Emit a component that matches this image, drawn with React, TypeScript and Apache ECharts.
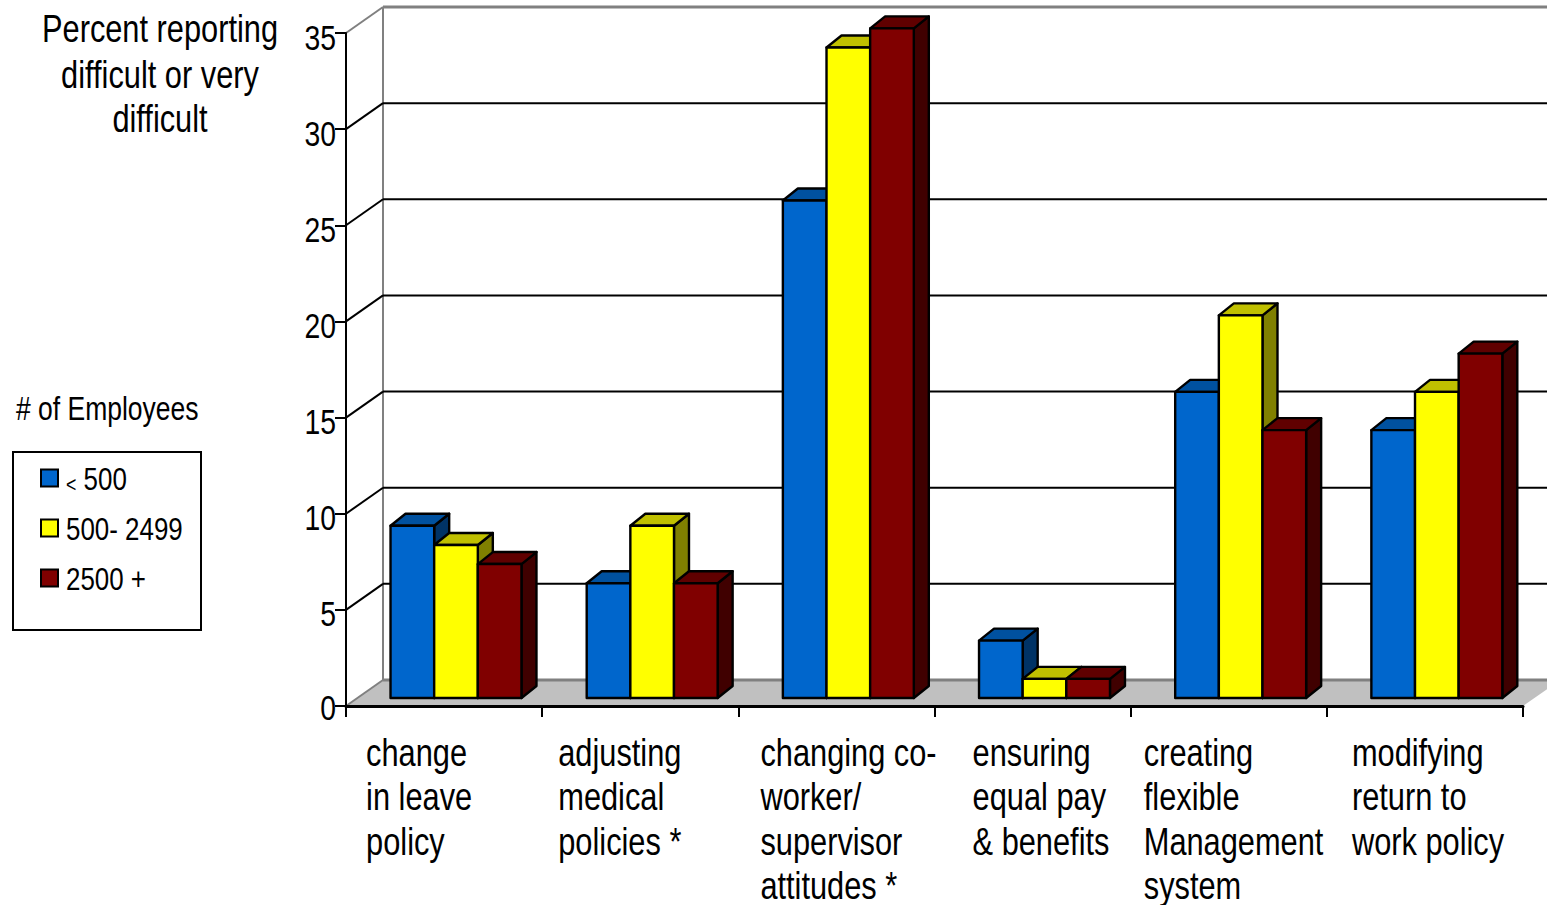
import React, { useEffect, useRef } from "react";
import * as echarts from "echarts";

const categories = [
  "change\nin leave\npolicy",
  "adjusting\nmedical\npolicies *",
  "changing co-\nworker/\nsupervisor\nattitudes *",
  "ensuring\nequal pay\n& benefits",
  "creating\nflexible\nManagement\nsystem",
  "modifying\nreturn to\nwork policy",
];
const under500 = [9, 6, 26, 3, 16, 14];
const mid500to2499 = [8, 9, 34, 1, 20, 16];
const over2500 = [7, 6, 35, 1, 14, 18];
const yTicks = [0, 5, 10, 15, 20, 25, 30, 35];
const legendNames = ["< 500", "500- 2499", "2500 +"];
const titleLines = ["Percent reporting", "difficult or very", "difficult"];

// Left edge of each category caption, relative to its band centre.
const captionShift = [-78, -82, -76, -60, -85, -73];

const FONT = '"Liberation Sans", sans-serif';
const INK = "#000000";
// The typeface is set condensed by squeezing it horizontally.
const NARROW = 0.81;

// Oblique projection of the chart box and of the bars standing in it.
const WALL_DX = 37;
const WALL_DY = -26;
const BAR_DX = 15;
const BAR_DY = -12;
const BAR_FLOOR_LIFT = 8;
const BAR_BAND_RATIO = 0.2225;
const GROUP_START_RATIO = -0.273;
// Bars stand nearer the viewer's plane than the axis, so they foreshorten slightly.
const BAR_HEIGHT_RATIO = 0.995;

const palette = [
  { front: "#0066CC", top: "#00519F", side: "#003366" },
  { front: "#FFFF00", top: "#C0C000", side: "#808000" },
  { front: "#800000", top: "#600000", side: "#400000" },
];

function poly(points: number[][], fill: string) {
  return {
    type: "polygon",
    shape: { points },
    style: { fill, stroke: INK, lineWidth: 2.4, lineJoin: "round" },
  };
}

function narrowText(
  text: string,
  x: number,
  y: number,
  size: number,
  align: string = "left",
  extra: any = {}
) {
  return {
    type: "text",
    x,
    y,
    scaleX: NARROW,
    style: {
      text,
      fill: INK,
      font: `${size}px ${FONT}`,
      align,
      verticalAlign: "middle",
      ...extra,
    },
  };
}

function barRenderer(seriesPos: number) {
  return (params: any, api: any) => {
    const cat = api.value(0);
    const [cx, yZero] = api.coord([cat, 0]);
    const yValue = api.coord([cat, api.value(1)])[1];
    const yBase = yZero - BAR_FLOOR_LIFT;
    const yTop = yBase - (yZero - yValue) * BAR_HEIGHT_RATIO;
    const band = api.size([1, 0])[0];
    const w = band * BAR_BAND_RATIO;
    const x0 = cx + band * GROUP_START_RATIO + seriesPos * w;
    const x1 = x0 + w;
    const c = palette[seriesPos];
    return {
      type: "group",
      children: [
        poly(
          [
            [x1, yBase],
            [x1 + BAR_DX, yBase + BAR_DY],
            [x1 + BAR_DX, yTop + BAR_DY],
            [x1, yTop],
          ],
          c.side
        ),
        poly(
          [
            [x0, yTop],
            [x0 + BAR_DX, yTop + BAR_DY],
            [x1 + BAR_DX, yTop + BAR_DY],
            [x1, yTop],
          ],
          c.top
        ),
        poly(
          [
            [x0, yBase],
            [x0, yTop],
            [x1, yTop],
            [x1, yBase],
          ],
          c.front
        ),
      ],
    };
  };
}

// Back wall, floor, gridlines and the y tick numbers, one item per tick.
function wallRenderer(params: any, api: any) {
  const v = api.value(0);
  const box = params.coordSys;
  const y = api.coord([0, v])[1];
  const left = box.x;
  const right = box.x + box.width;
  const backY = y + WALL_DY;
  const children: any[] = [];
  const isEdge = v === 0 || v === yTicks[yTicks.length - 1];
  if (v === 0) {
    children.push({
      type: "polygon",
      shape: {
        points: [
          [left, y],
          [left + WALL_DX, backY],
          [right + WALL_DX, backY],
          [right, y],
        ],
      },
      style: { fill: "#C0C0C0" },
    });
    children.push({
      type: "line",
      shape: { x1: left + WALL_DX, y1: backY, x2: left + WALL_DX, y2: box.y + WALL_DY },
      style: { stroke: "#808080", lineWidth: 2 },
    });
  }
  const stroke = isEdge ? "#808080" : INK;
  children.push({
    type: "line",
    shape: { x1: left + WALL_DX, y1: backY, x2: right + WALL_DX, y2: backY },
    style: { stroke, lineWidth: isEdge ? 3 : 2 },
  });
  children.push({
    type: "line",
    shape: { x1: left, y1: y, x2: left + WALL_DX, y2: backY },
    style: { stroke, lineWidth: 2 },
  });
  children.push(narrowText(String(v), left - 10, y + (v === 0 ? 1.5 : 4.5), 35, "right"));
  return { type: "group", children };
}

// Category captions are left aligned and drawn line by line under each band.
function captionRenderer(params: any, api: any) {
  const i = api.value(0);
  const [cx, y] = api.coord([i, 0]);
  const lines = categories[i].split("\n");
  return {
    type: "group",
    children: lines.map((line, k) =>
      narrowText(line, cx + captionShift[i], y + 47 + k * 44.2, 38)
    ),
  };
}

const legendBox = { x: 13, y: 452, width: 188, height: 178 };

function legendGraphic() {
  const items: any[] = [
    {
      type: "rect",
      shape: { ...legendBox },
      style: { fill: "#FFFFFF", stroke: INK, lineWidth: 2 },
    },
    narrowText("# of Employees", 16, 408, 32.7),
  ];
  legendNames.forEach((name, s) => {
    const cy = 478 + s * 50;
    items.push({
      type: "rect",
      shape: { x: 41, y: cy - 8.5, width: 17, height: 17 },
      style: { fill: palette[s].front, stroke: INK, lineWidth: 2 },
    });
    const isLess = name.startsWith("<");
    items.push(
      narrowText(isLess ? "{small|<} " + name.slice(2) : name, 66, cy + 1, 32, "left", {
        rich: { small: { font: `22px ${FONT}`, fill: INK, verticalAlign: "bottom" } },
      })
    );
  });
  return items;
}

function titleGraphic() {
  const centres = [29, 75, 119];
  return titleLines.map((line, k) => narrowText(line, 160, centres[k], 38, "center"));
}

export default function App() {
  const ref = useRef<HTMLDivElement>(null);

  useEffect(() => {
    const chart = echarts.init(ref.current!, null, { renderer: "svg" });
    const seriesValues = [under500, mid500to2499, over2500];
    chart.setOption({
      animation: false,
      backgroundColor: "#FFFFFF",
      graphic: { elements: [...titleGraphic(), ...legendGraphic()] },
      grid: { left: 346, top: 33, width: 1177, height: 673, containLabel: false },
      xAxis: {
        type: "category",
        data: categories,
        z: 3,
        axisLine: { lineStyle: { color: INK, width: 3 } },
        axisTick: { show: true, length: 11, lineStyle: { color: INK, width: 2 } },
        axisLabel: { show: false },
      },
      yAxis: {
        type: "value",
        min: 0,
        max: 35,
        interval: 5,
        z: 3,
        axisLine: { show: true, lineStyle: { color: INK, width: 2 } },
        axisTick: { show: true, length: 11, lineStyle: { color: INK, width: 2 } },
        splitLine: { show: false },
        axisLabel: { show: false },
      },
      series: [
        {
          type: "custom",
          z: 1,
          silent: true,
          clip: false,
          data: yTicks.map((v) => [v]),
          encode: { y: 0 },
          renderItem: wallRenderer,
        },
        ...legendNames.map((name, s) => ({
          type: "custom",
          name,
          z: 4,
          silent: true,
          data: seriesValues[s].map((v, i) => [i, v]),
          encode: { x: 0, y: 1 },
          renderItem: barRenderer(s),
        })),
        {
          type: "custom",
          z: 5,
          silent: true,
          clip: false,
          data: categories.map((_, i) => [i]),
          encode: { x: 0 },
          renderItem: captionRenderer,
        },
      ],
    });
    return () => chart.dispose();
  }, []);

  return (
    <div
      ref={ref}
      style={{ position: "fixed", left: 0, top: 0, width: 1547, height: 905, overflow: "hidden" }}
    />
  );
}
